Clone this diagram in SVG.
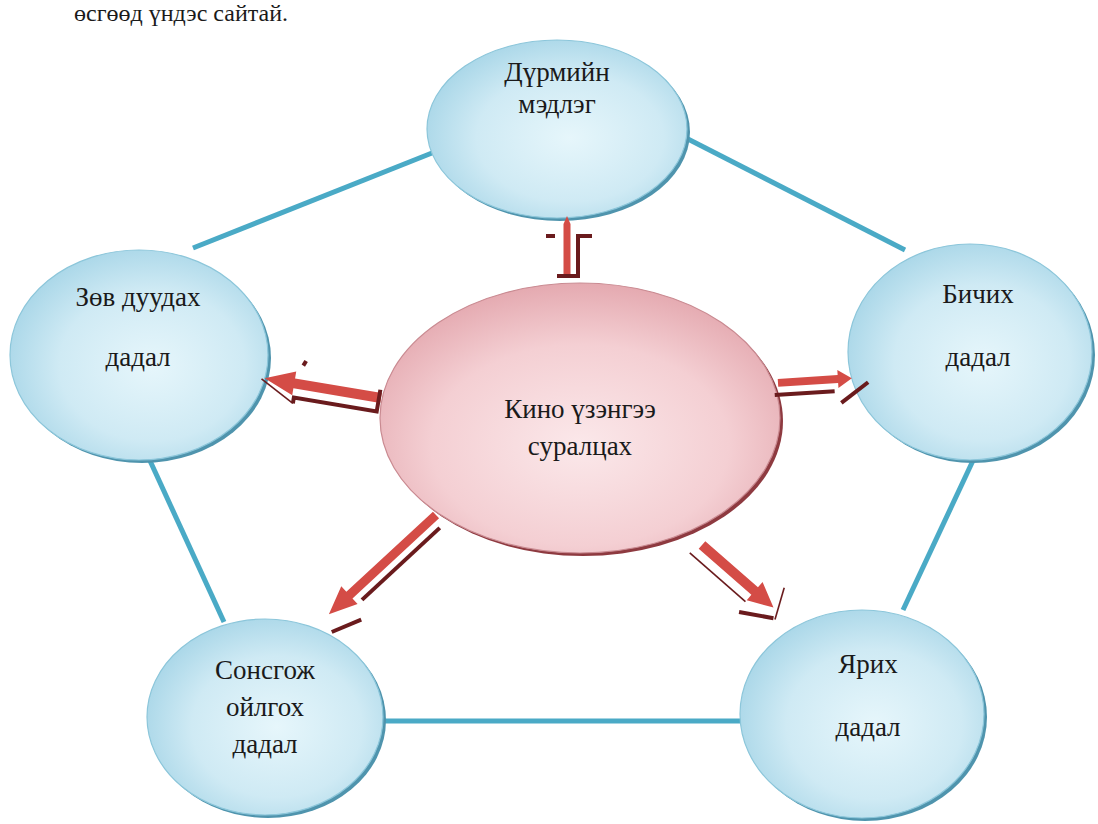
<svg xmlns="http://www.w3.org/2000/svg" width="1098" height="824" viewBox="0 0 1098 824">
  <defs>
    <radialGradient id="blueFill" cx="0.55" cy="0.55" r="0.6">
      <stop offset="0" stop-color="#e6f6fb"/>
      <stop offset="0.6" stop-color="#cfeaf4"/>
      <stop offset="1" stop-color="#a6d5e7"/>
    </radialGradient>
    <radialGradient id="pinkFill" cx="0.5" cy="0.6" r="0.62">
      <stop offset="0" stop-color="#fbe8ea"/>
      <stop offset="0.6" stop-color="#f4cfd3"/>
      <stop offset="1" stop-color="#e3a6ad"/>
    </radialGradient>
    <style>
      .bshadow { fill: #4f94ad; }
      .bnode { fill: url(#blueFill); stroke: #8cc6da; stroke-width: 1.2; }
      .pshadow { fill: #8e3a40; }
      .pnode { fill: url(#pinkFill); stroke: #c98a91; stroke-width: 1.2; }
      .link { stroke: #4aaac6; stroke-width: 5; fill: none; }
      .label { font-family: 'Times New Roman', 'Liberation Serif', 'DejaVu Serif', serif; font-size: 27px; fill: #1a1a1a; text-anchor: middle; }
      .intro { font-family: 'Times New Roman', 'Liberation Serif', 'DejaVu Serif', serif; font-size: 24px; fill: #1a1a1a; }
      .shaft { fill: #d44c46; }
      .shade { fill: none; stroke: #6a1b1d; stroke-width: 4; stroke-linejoin: miter; }
      .shadeThin { fill: none; stroke: #6a1b1d; stroke-width: 1.6; }
    </style>
  </defs>

  <rect width="1098" height="824" fill="#ffffff"/>

  <!-- closing line of the running text above the figure -->
  <text class="intro" x="74" y="21">өсгөөд үндэс сайтай.</text>

  <!-- connectors: outer ring and arrows from the centre -->
  <g id="connectors">
    <line class="link" x1="193" y1="248" x2="437" y2="151"/>
    <line class="link" x1="684" y1="137" x2="905" y2="250"/>
    <line class="link" x1="146" y1="452" x2="224" y2="622"/>
    <line class="link" x1="977" y1="452" x2="903" y2="610"/>
    <line class="link" x1="380" y1="721" x2="742" y2="721"/>
  </g>

  <!-- nodes -->
  <g id="node-top">
    <ellipse class="bshadow" cx="560" cy="132" rx="130" ry="89"/>
    <ellipse class="bnode" cx="557" cy="129" rx="130" ry="89"/>
    <text class="label" x="557" y="81">Дүрмийн</text>
    <text class="label" x="557" y="113">мэдлэг</text>
  </g>

  <g id="node-left">
    <ellipse class="bshadow" cx="142" cy="358" rx="129" ry="105"/>
    <ellipse class="bnode" cx="139" cy="355" rx="129" ry="105"/>
    <text class="label" x="138" y="306">Зөв дуудах</text>
    <text class="label" x="138" y="366">дадал</text>
  </g>

  <g id="node-right">
    <ellipse class="bshadow" cx="973" cy="355" rx="122" ry="108"/>
    <ellipse class="bnode" cx="970" cy="352" rx="122" ry="108"/>
    <text class="label" x="978" y="303">Бичих</text>
    <text class="label" x="978" y="366">дадал</text>
  </g>

  <g id="node-bottom-left">
    <ellipse class="bshadow" cx="268" cy="720" rx="118" ry="98"/>
    <ellipse class="bnode" cx="265" cy="717" rx="118" ry="98"/>
    <text class="label" x="265" y="679">Сонсгож</text>
    <text class="label" x="265" y="716">ойлгох</text>
    <text class="label" x="265" y="753">дадал</text>
  </g>

  <g id="node-bottom-right">
    <ellipse class="bshadow" cx="865" cy="717" rx="122" ry="104"/>
    <ellipse class="bnode" cx="862" cy="714" rx="122" ry="104"/>
    <text class="label" x="868" y="673">Ярих</text>
    <text class="label" x="868" y="736">дадал</text>
  </g>

  <g id="node-center">
    <ellipse class="pshadow" cx="583" cy="421" rx="200" ry="135"/>
    <ellipse class="pnode" cx="580" cy="418" rx="200" ry="135"/>
    <text class="label" x="580" y="418">Кино үзэнгээ</text>
    <text class="label" x="580" y="455">суралцах</text>
  </g>

  <!-- 3D block arrows, each drawn pointing along +x then placed -->
  <g id="arrows">
    <!-- up -->
    <g transform="translate(567,274) rotate(-90)">
      <path class="shaft" d="M0,-3.5 H50 L58,0 L50,3.5 H0 Z"/>
      <path class="shade" d="M-2,-10 V11 H38 V25"/>
      <path class="shade" d="M38,-12 V-21"/>
    </g>
    <!-- left -->
    <g transform="translate(381,398) rotate(189.6) scale(1,-1)">
      <path class="shaft" d="M0,-5 H88 V-12 L118,0 L88,12 V5 H0 Z"/>
      <path class="shade" d="M2,-8 V14 H86 V20"/>
      <path class="shadeThin" d="M86,20 L121,1"/>
      <path class="shade" d="M80,-24 L82,-19"/>
    </g>
    <!-- right -->
    <g transform="translate(776,383) rotate(-3.6)">
      <path class="shaft" d="M2,-4 H62 V-9 L76,0 L62,9 V4 H2 Z"/>
      <path class="shade" d="M-2,12 H58"/>
      <path class="shade" d="M64,24 L92,5"/>
    </g>
    <!-- down-left -->
    <g transform="translate(436,515) rotate(137.2) scale(1,-1)">
      <path class="shaft" d="M0,-4.5 H118 V-12 L146,0 L118,12 V4.5 H0 Z"/>
      <path class="shade" d="M6,12 H112"/>
      <path class="shade" d="M126,26 L156,15"/>
    </g>
    <!-- down-right -->
    <g transform="translate(702,545) rotate(41.2)">
      <path class="shaft" d="M0,-5 H70 V-12 L95,0 L70,12 V5 H0 Z"/>
      <path class="shadeThin" d="M-4,14 H70"/>
      <path class="shade" d="M72,26 L102,8"/>
      <path class="shadeThin" d="M104,8 L90,-22"/>
    </g>
  </g>
</svg>
